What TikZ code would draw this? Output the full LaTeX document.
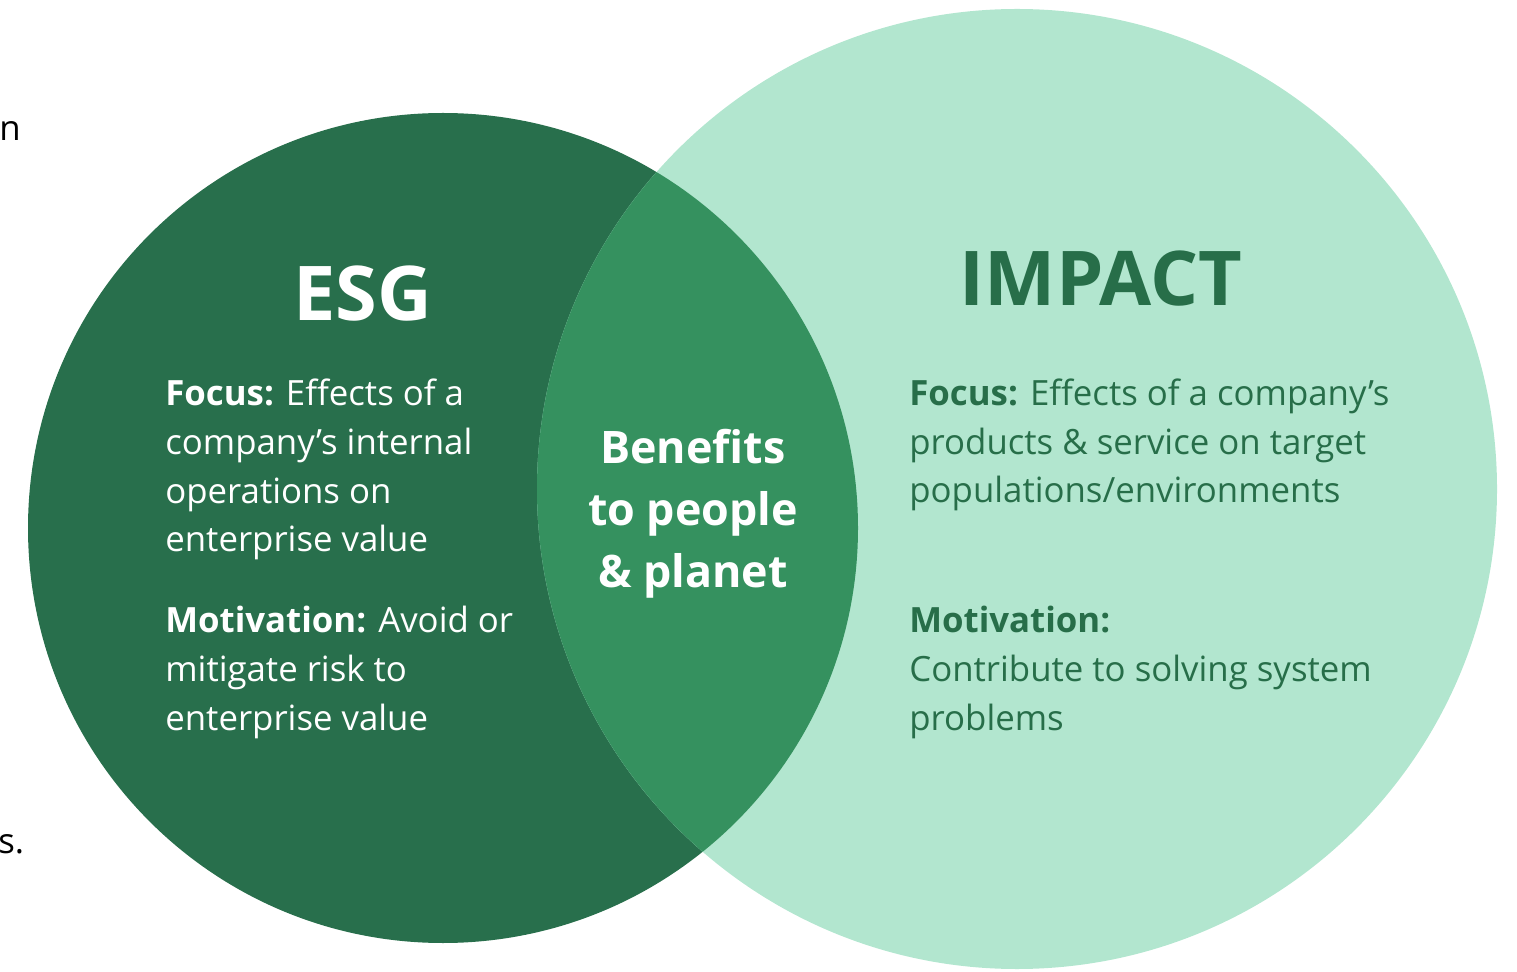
\documentclass[tikz,border=0pt]{standalone}
\usepackage{fontspec}
\setmainfont{Open Sans}
\usetikzlibrary{positioning}

\definecolor{esgdark}{HTML}{286F4C}
\definecolor{overlapgreen}{HTML}{35915F}
\definecolor{impactlight}{HTML}{B2E6CF}
\definecolor{impacttext}{HTML}{276E49}

\tikzset{
    bigtitle/.style={anchor=base, font=\fontsize{43}{43}\selectfont\bfseries},
    bodytext/.style={anchor=base west, align=left, inner sep=0pt, font=\fontsize{19.8}{27.8}\selectfont},
    midtext/.style={anchor=base, align=center, inner sep=0pt, text=white, font=\fontsize{25.5}{35.2}\selectfont\bfseries},
}

\begin{document}
\begin{tikzpicture}[x=0.02cm,y=-0.02cm]
    \useasboundingbox (0,0) rectangle (1517,972);

    % the two circles and their overlap
    \fill[esgdark] (443,528) circle (415);
    \fill[impactlight] (1017,489) circle (480);
    \begin{scope}
        \clip (443,528) circle (415);
        \fill[overlapgreen] (1017,489) circle (480);
    \end{scope}

    % cut off text at the left border
    \node[bodytext] (cutN) at (-1,141) {n};
    \node[bodytext] (cutS) at (-2,853) {s.};

    % anchors sit on the last baseline of each block
    \node[bigtitle, text=white] (esg) at (363,321) {ESG};
    \node[bodytext, text=white] (esgfocus) at (165,552) {\textbf{Focus:} Effects of a\\company’s internal\\operations on\\enterprise value};
    \node[bodytext, text=white] (esgmotiv) at (165,730) {\textbf{Motivation:} Avoid or\\mitigate risk to\\enterprise value};

    \node[midtext] (shared) at (693,587) {Benefits\\to people\\\& planet};

    \node[bigtitle, text=impacttext] (impact) at (1101,306) {IMPACT};
    \node[bodytext, text=impacttext] (impfocus) at (909,503) {\textbf{Focus:} Effects of a company’s\\products \& service on target\\populations/environments};
    \node[bodytext, text=impacttext] (impmotiv) at (909,730) {\textbf{Motivation:}\\Contribute to solving system\\problems};
\end{tikzpicture}
\end{document}
